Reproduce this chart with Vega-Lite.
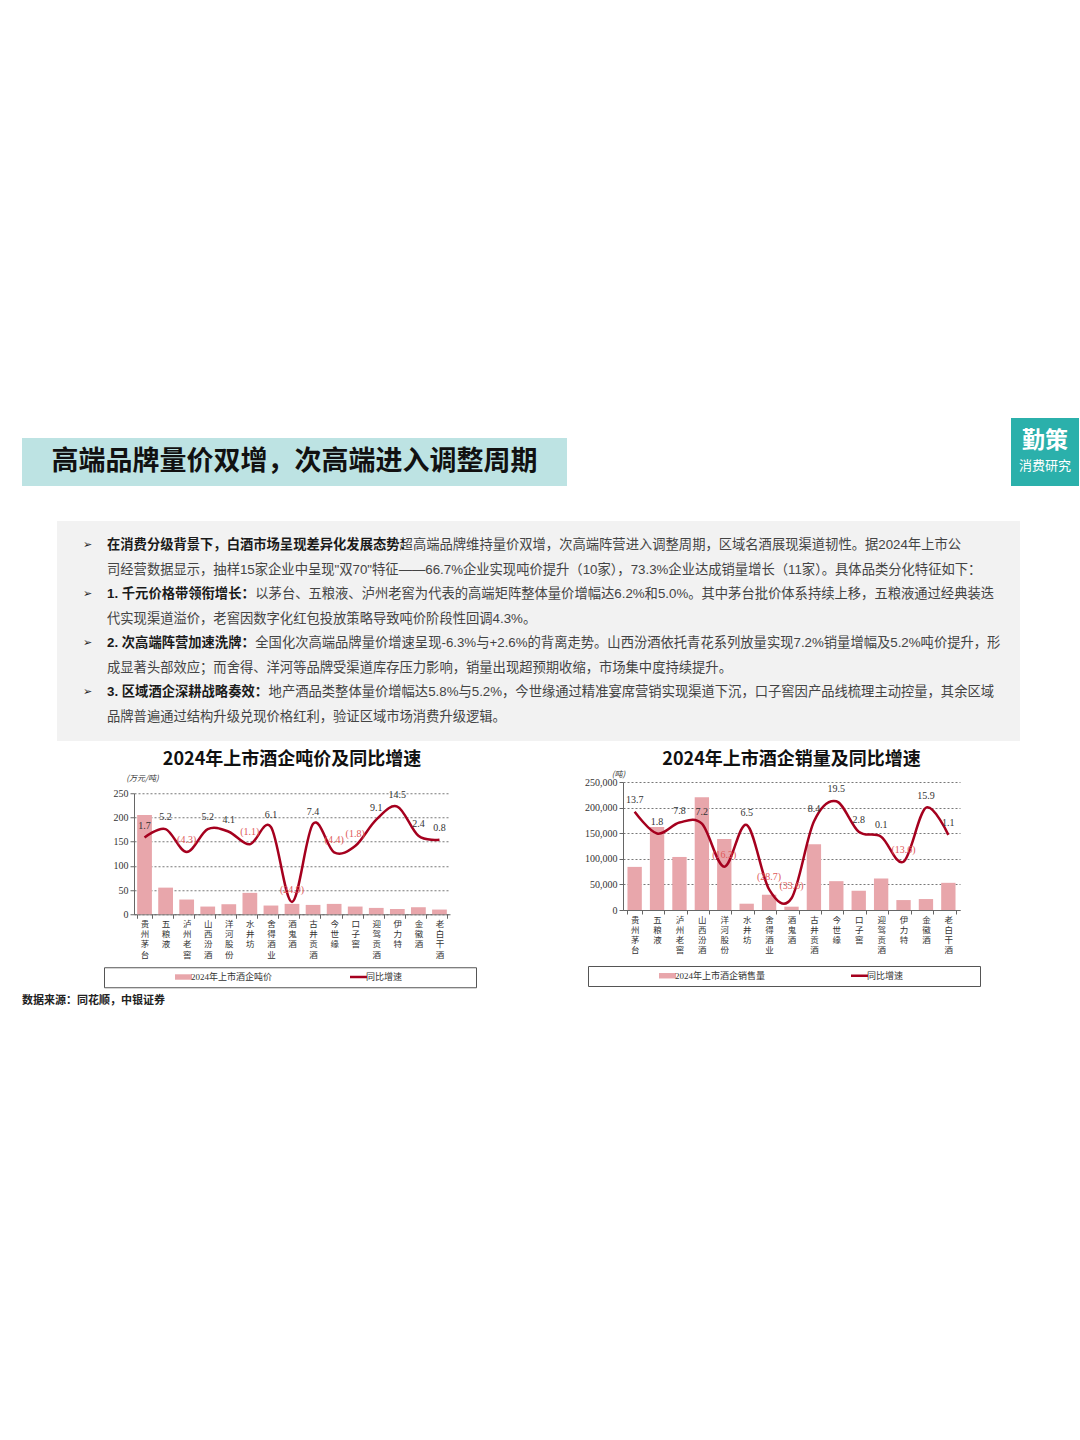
{
  "$schema": "https://vega.github.io/schema/vega-lite/v6.json",
  "background": "#ffffff",
  "padding": {"left": 22, "top": 418, "right": 0, "bottom": 0},
  "config": {
    "view": {"stroke": null},
    "axis": {"labelFlush": false, "labelOverlap": false},
    "legend": {"labelFont": "Liberation Serif, Noto Sans CJK SC"}
  },
  "title": {"text": "数据来源：同花顺，中银证券", "orient": "bottom", "anchor": "start", "offset": -4, "fontSize": 11, "fontWeight": "bold", "font": "Noto Sans CJK SC", "color": "#222"},
  "spacing": 12,
  "vconcat": [
    {
      "spacing": 444,
      "center": true,
      "hconcat": [
        {
          "width": 545, "height": 48,
          "view": {"fill": "#bde3e3"},
          "data": {"values": [{"t": "高端品牌量价双增，次高端进入调整周期"}]},
          "mark": {"type": "text", "font": "Noto Sans CJK SC", "fontSize": 27, "fontWeight": "bold", "color": "#111111"},
          "encoding": {"text": {"field": "t"}}
        },
        {
          "width": 68, "height": 68,
          "title": {"text": " ", "orient": "bottom", "fontSize": 20, "offset": 0},
          "view": {"fill": "#2bb0ab"},
          "layer": [
            {
              "data": {"values": [{"t": "勤策", "k": "a"}]},
              "mark": {"type": "text", "font": "Noto Sans CJK SC", "fontSize": 23, "fontWeight": "bold", "color": "#ffffff", "baseline": "middle"},
              "encoding": {
                "text": {"field": "t"},
                "y": {"field": "k", "type": "nominal", "scale": {"domain": ["a", "b"], "range": [23, 48], "padding": 0}, "axis": null}
              }
            },
            {
              "data": {"values": [{"t": "消费研究", "k": "b"}]},
              "mark": {"type": "text", "font": "Noto Sans CJK SC", "fontSize": 13, "color": "#ffffff", "baseline": "middle"},
              "encoding": {
                "text": {"field": "t"},
                "y": {"field": "k", "type": "nominal", "axis": null}
              }
            }
          ]
        }
      ]
    },
    {
      "spacing": 10,
      "vconcat": [
        {
          "spacing": 0,
          "hconcat": [
            {"width": 35, "height": 1, "data": {"values": [{"s": 1}]}, "mark": {"type": "point", "opacity": 0}},
            {
              "width": 963, "height": 220,
              "view": {"fill": "#f2f2f2"},
              "data": {"values": [
                {"line": 1, "col": -1.8, "w": "bullet", "text": "➢"},
                {"line": 1, "col": 0, "w": "b", "text": "在消费分级背景下，白酒市场呈现差异化发展态势："},
                {"line": 1, "col": 22, "w": "n", "text": "超高端品牌维持量价双增，次高端阵营进入调整周期，区域名酒展现渠道韧性。据2024年上市公"},
                {"line": 2, "col": 0, "w": "n", "text": "司经营数据显示，抽样15家企业中呈现\"双70\"特征——66.7%企业实现吨价提升（10家），73.3%企业达成销量增长（11家）。具体品类分化特征如下："},
                {"line": 3, "col": -1.8, "w": "bullet", "text": "➢"},
                {"line": 3, "col": 0, "w": "b", "text": "1. 千元价格带领衔增长："},
                {"line": 3, "col": 11.15, "w": "n", "text": "以茅台、五粮液、泸州老窖为代表的高端矩阵整体量价增幅达6.2%和5.0%。其中茅台批价体系持续上移，五粮液通过经典装迭"},
                {"line": 4, "col": 0, "w": "n", "text": "代实现渠道溢价，老窖因数字化红包投放策略导致吨价阶段性回调4.3%。"},
                {"line": 5, "col": -1.8, "w": "bullet", "text": "➢"},
                {"line": 5, "col": 0, "w": "b", "text": "2. 次高端阵营加速洗牌："},
                {"line": 5, "col": 11.15, "w": "n", "text": "全国化次高端品牌量价增速呈现-6.3%与+2.6%的背离走势。山西汾酒依托青花系列放量实现7.2%销量增幅及5.2%吨价提升，形"},
                {"line": 6, "col": 0, "w": "n", "text": "成显著头部效应；而舍得、洋河等品牌受渠道库存压力影响，销量出现超预期收缩，市场集中度持续提升。"},
                {"line": 7, "col": -1.8, "w": "bullet", "text": "➢"},
                {"line": 7, "col": 0, "w": "b", "text": "3. 区域酒企深耕战略奏效："},
                {"line": 7, "col": 12.15, "w": "n", "text": "地产酒品类整体量价增幅达5.8%与5.2%，今世缘通过精准宴席营销实现渠道下沉，口子窖因产品线梳理主动控量，其余区域"},
                {"line": 8, "col": 0, "w": "n", "text": "品牌普遍通过结构升级兑现价格红利，验证区域市场消费升级逻辑。"}
              ]},
              "encoding": {
                "y": {"field": "line", "type": "ordinal", "scale": {"domain": [1, 2, 3, 4, 5, 6, 7, 8], "padding": 1}, "axis": null},
                "x": {"field": "col", "type": "quantitative", "scale": {"domain": [0, 10], "range": [50, 183], "zero": false, "nice": false}, "axis": null},
                "text": {"field": "text"}
              },
              "layer": [
                {
                  "transform": [{"filter": "datum.w === 'bullet'"}],
                  "mark": {"type": "text", "align": "left", "baseline": "middle", "font": "DejaVu Sans", "fontSize": 11, "color": "#222222"}
                },
                {
                  "transform": [{"filter": "datum.w === 'n'"}],
                  "mark": {"type": "text", "align": "left", "baseline": "middle", "font": "Liberation Sans, Noto Sans CJK SC", "fontSize": 13.3, "color": "#444444"}
                },
                {
                  "transform": [{"filter": "datum.w === 'b'"}],
                  "mark": {"type": "text", "align": "left", "baseline": "middle", "font": "Liberation Sans, Noto Sans CJK SC", "fontSize": 13.3, "fontWeight": "bold", "color": "#1a1a1a"}
                }
              ]
            }
          ]
        },
        {
          "spacing": 0,
          "hconcat": [
            {"width": 81, "height": 1, "data": {"values": [{"s": 1}]}, "mark": {"type": "point", "opacity": 0}},
            {
              "spacing": 107,
              "center": true,
              "resolve": {"scale": {"color": "independent"}, "legend": {"color": "independent"}},
              "hconcat": [
                {
                  "width": 316, "height": 121,
                  "title": {"text": "2024年上市酒企吨价及同比增速", "font": "Noto Sans CJK SC", "fontSize": 18, "fontWeight": "bold", "color": "#111111", "offset": 5},
                  "data": {"values": [
                    {"c": "贵州茅台", "v": 205, "g": 1.7},
                    {"c": "五粮液", "v": 55, "g": 5.2},
                    {"c": "泸州老窖", "v": 30.4, "g": -4.3},
                    {"c": "山西汾酒", "v": 15.9, "g": 5.2},
                    {"c": "洋河股份", "v": 20.7, "g": 4.1},
                    {"c": "水井坊", "v": 44.2, "g": -1.1},
                    {"c": "舍得酒业", "v": 18, "g": 6.1},
                    {"c": "酒鬼酒", "v": 21.4, "g": -24.9},
                    {"c": "古井贡酒", "v": 19.3, "g": 7.4},
                    {"c": "今世缘", "v": 21.4, "g": -4.4},
                    {"c": "口子窖", "v": 15.9, "g": -1.8},
                    {"c": "迎驾贡酒", "v": 13.1, "g": 9.1},
                    {"c": "伊力特", "v": 11, "g": 14.5},
                    {"c": "金徽酒", "v": 14.5, "g": 2.4},
                    {"c": "老白干酒", "v": 9.7, "g": 0.8}
                  ]},
                  "encoding": {
                    "x": {
                      "field": "c", "type": "nominal", "sort": null,
                      "scale": {"paddingInner": 0.3, "paddingOuter": 0.15},
                      "axis": {"title": null, "labelAngle": 0, "labelExpr": "split(datum.label, '')", "labelFont": "Noto Sans CJK SC", "labelFontSize": 8.5, "labelLineHeight": 10.3, "labelBaseline": "top", "labelPadding": 1, "labelColor": "#333333", "tickBand": "extent", "tickSize": 4, "tickColor": "#666666", "domainColor": "#666666"}
                    }
                  },
                  "layer": [
                    {
                      "mark": {"type": "bar"},
                      "encoding": {
                        "y": {
                          "field": "v", "type": "quantitative", "scale": {"domain": [0, 250]},
                          "axis": {"orient": "left", "values": [0, 50, 100, 150, 200, 250], "format": "d", "grid": true, "gridDash": [2, 2], "gridColor": "#555555", "gridWidth": 0.8, "domainColor": "#666666", "tickColor": "#666666", "tickSize": 4, "labelFont": "Liberation Serif", "labelFontSize": 10, "labelColor": "#333333", "labelPadding": 2, "title": "(万元/吨)", "titleAngle": 0, "titleX": 8, "titleY": -15, "titleAlign": "center", "titleBaseline": "middle", "titleFont": "Noto Sans CJK SC", "titleFontSize": 8, "titleFontWeight": "normal", "titleFontStyle": "italic", "titleColor": "#333333"}
                        },
                        "color": {
                          "datum": "2024年上市酒企吨价", "type": "nominal",
                          "scale": {"domain": ["2024年上市酒企吨价", "同比增速"], "range": ["#e8a6ab", "#a5001e"]},
                          "legend": {
                            "orient": "none", "legendX": -30, "legendY": 174, "direction": "horizontal",
                            "title": " ", "titleOrient": "right", "titlePadding": 69, "titleFontSize": 9,
                            "padding": 5, "strokeColor": "#555555", "symbolSize": 289,
                            "labelFontSize": 9, "labelColor": "#333333", "symbolOffset": 70, "labelOffset": 3, "columnPadding": 11,
                            "symbolType": {"expr": "datum.value === '同比增速' ? 'stroke' : 'M-1,-0.32H1V0.32H-1Z'"},
                            "symbolStrokeWidth": {"expr": "datum.value === '同比增速' ? 2.5 : 0"},
                            "symbolStrokeColor": {"expr": "datum.value === '同比增速' ? '#a5001e' : '#e8a6ab'"}
                          }
                        }
                      }
                    },
                    {
                      "layer": [
                        {
                          "mark": {"type": "line", "interpolate": "cardinal", "strokeWidth": 2.5},
                          "encoding": {
                            "y": {
                              "field": "g", "type": "quantitative", "scale": {"domain": [-30, 20]},
                              "axis": {"orient": "right", "values": [-30, -25, -20, -15, -10, -5, 0, 5, 10, 15, 20], "format": "(d", "grid": false, "domainColor": "#666666", "tickColor": "#666666", "tickSize": 4, "labelFont": "Liberation Serif", "labelFontSize": 10, "labelColor": {"condition": {"test": "datum.value < 0", "value": "#e0504f"}, "value": "#333333"}, "labelPadding": 2, "title": "(%)", "titleAngle": 0, "titleX": -9, "titleY": -17, "titleAlign": "center", "titleBaseline": "middle", "titleFont": "Liberation Serif", "titleFontSize": 8, "titleFontWeight": "normal", "titleColor": "#333333"}
                            },
                            "color": {"datum": "同比增速", "type": "nominal"}
                          }
                        },
                        {
                          "mark": {"type": "text", "dy": -12, "font": "Liberation Serif", "fontSize": 10},
                          "encoding": {
                            "y": {"field": "g", "type": "quantitative", "axis": null},
                            "text": {"field": "g", "type": "quantitative", "format": "(.1f"},
                            "color": {"condition": {"test": "datum.g < 0", "value": "#e05a5a"}, "value": "#333333"}
                          }
                        }
                      ]
                    }
                  ],
                  "resolve": {"scale": {"y": "independent"}}
                },
                {
                  "width": 337, "height": 128,
                  "title": {"text": "2024年上市酒企销量及同比增速", "font": "Noto Sans CJK SC", "fontSize": 18, "fontWeight": "bold", "color": "#111111", "offset": 1},
                  "data": {"values": [
                    {"c": "贵州茅台", "v": 84200, "g": 13.7},
                    {"c": "五粮液", "v": 161900, "g": 1.8},
                    {"c": "泸州老窖", "v": 103600, "g": 7.8},
                    {"c": "山西汾酒", "v": 220200, "g": 7.2},
                    {"c": "洋河股份", "v": 138600, "g": -16.3},
                    {"c": "水井坊", "v": 12300, "g": 6.5},
                    {"c": "舍得酒业", "v": 29800, "g": -28.7},
                    {"c": "酒鬼酒", "v": 6500, "g": -33.6},
                    {"c": "古井贡酒", "v": 128200, "g": 8.4},
                    {"c": "今世缘", "v": 56300, "g": 19.5},
                    {"c": "口子窖", "v": 37600, "g": 2.8},
                    {"c": "迎驾贡酒", "v": 61500, "g": 0.1},
                    {"c": "伊力特", "v": 19400, "g": -13.6},
                    {"c": "金徽酒", "v": 21400, "g": 15.9},
                    {"c": "老白干酒", "v": 53100, "g": 1.1}
                  ]},
                  "encoding": {
                    "x": {
                      "field": "c", "type": "nominal", "sort": null,
                      "scale": {"paddingInner": 0.36, "paddingOuter": 0.2},
                      "axis": {"title": " ", "titleY": 78, "titleBaseline": "top", "titleFontSize": 11, "labelAngle": 0, "labelExpr": "split(datum.label, '')", "labelFont": "Noto Sans CJK SC", "labelFontSize": 8.5, "labelLineHeight": 10.3, "labelBaseline": "top", "labelPadding": 1, "labelColor": "#333333", "tickBand": "extent", "tickSize": 4, "tickColor": "#666666", "domainColor": "#666666"}
                    }
                  },
                  "layer": [
                    {
                      "mark": {"type": "bar"},
                      "encoding": {
                        "y": {
                          "field": "v", "type": "quantitative", "scale": {"domain": [0, 250000]},
                          "axis": {"orient": "left", "values": [0, 50000, 100000, 150000, 200000, 250000], "format": ",d", "grid": true, "gridDash": [2, 2], "gridColor": "#555555", "gridWidth": 0.8, "domainColor": "#666666", "tickColor": "#666666", "tickSize": 4, "labelFont": "Liberation Serif", "labelFontSize": 10, "labelColor": "#333333", "labelPadding": 2, "title": "(吨)", "titleAngle": 0, "titleX": -5, "titleY": -8, "titleAlign": "center", "titleBaseline": "middle", "titleFont": "Noto Sans CJK SC", "titleFontSize": 8, "titleFontWeight": "normal", "titleFontStyle": "italic", "titleColor": "#333333"}
                        },
                        "color": {
                          "datum": "2024年上市酒企销售量", "type": "nominal",
                          "scale": {"domain": ["2024年上市酒企销售量", "同比增速"], "range": ["#e8a6ab", "#a5001e"]},
                          "legend": {
                            "orient": "none", "legendX": -35, "legendY": 184, "direction": "horizontal",
                            "title": " ", "titleOrient": "right", "titlePadding": 72, "titleFontSize": 9,
                            "padding": 5, "strokeColor": "#555555", "symbolSize": 289,
                            "labelFontSize": 9, "labelColor": "#333333", "symbolOffset": 70, "labelOffset": 3, "columnPadding": 19,
                            "symbolType": {"expr": "datum.value === '同比增速' ? 'stroke' : 'M-1,-0.32H1V0.32H-1Z'"},
                            "symbolStrokeWidth": {"expr": "datum.value === '同比增速' ? 2.5 : 0"},
                            "symbolStrokeColor": {"expr": "datum.value === '同比增速' ? '#a5001e' : '#e8a6ab'"}
                          }
                        }
                      }
                    },
                    {
                      "layer": [
                        {
                          "mark": {"type": "line", "interpolate": "cardinal", "strokeWidth": 2.5},
                          "encoding": {
                            "y": {
                              "field": "g", "type": "quantitative", "scale": {"domain": [-40, 30]},
                              "axis": {"orient": "right", "values": [-40, -30, -20, -10, 0, 10, 20, 30], "format": "(d", "grid": false, "domainColor": "#666666", "tickColor": "#666666", "tickSize": 4, "labelFont": "Liberation Serif", "labelFontSize": 10, "labelColor": {"condition": {"test": "datum.value < 0", "value": "#e0504f"}, "value": "#333333"}, "labelPadding": 2, "title": "(%)", "titleAngle": 0, "titleX": -15, "titleY": -10, "titleAlign": "center", "titleBaseline": "middle", "titleFont": "Liberation Serif", "titleFontSize": 8, "titleFontWeight": "normal", "titleColor": "#333333"}
                            },
                            "color": {"datum": "同比增速", "type": "nominal"}
                          }
                        },
                        {
                          "mark": {"type": "text", "dy": -12, "font": "Liberation Serif", "fontSize": 10},
                          "encoding": {
                            "y": {"field": "g", "type": "quantitative", "axis": null},
                            "text": {"field": "g", "type": "quantitative", "format": "(.1f"},
                            "color": {"condition": {"test": "datum.g < 0", "value": "#e05a5a"}, "value": "#333333"}
                          }
                        }
                      ]
                    }
                  ],
                  "resolve": {"scale": {"y": "independent"}}
                }
              ]
            }
          ]
        }
      ]
    }
  ]
}
